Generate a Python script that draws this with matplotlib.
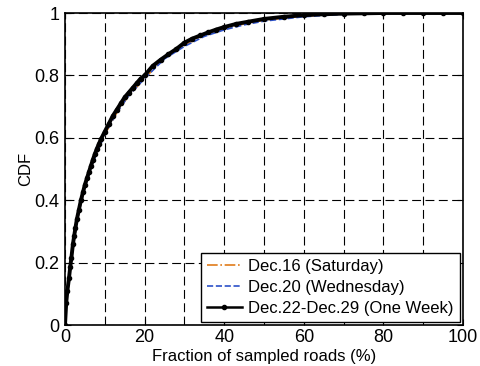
import matplotlib
matplotlib.use("Agg")
import matplotlib.pyplot as plt

# values (CDF vs fraction of sampled roads, %)
week_x = [0, 0.3, 0.6, 1, 1.3, 1.6, 2, 2.3, 2.6, 3, 3.5, 4, 4.5, 5, 5.5,
          6, 6.5, 7, 7.5, 8, 8.5, 9, 10, 11, 12, 13, 14, 15, 16, 17, 18,
          19, 20, 22, 24, 26, 28, 30, 32, 34, 36, 38, 40, 43, 46, 50, 55,
          60, 65, 70, 75, 80, 85, 90, 95, 100]
week_y = [0, 0.07, 0.11, 0.15, 0.185, 0.215, 0.26, 0.285, 0.31, 0.34, 0.37,
          0.40, 0.425, 0.45, 0.47, 0.49, 0.51, 0.53, 0.548, 0.565, 0.58,
          0.595, 0.62, 0.645, 0.67, 0.69, 0.71, 0.73, 0.745, 0.76, 0.775,
          0.79, 0.80, 0.83, 0.85, 0.868, 0.885, 0.905, 0.918, 0.928, 0.938,
          0.947, 0.955, 0.965, 0.972, 0.981, 0.988, 0.993, 0.996, 0.998,
          0.999, 1.0, 1.0, 1.0, 1.0, 1.0]

sat_x = [0, 0.5, 1, 2, 3, 4, 5, 7, 10, 13, 16, 20, 25, 30, 35, 40, 45,
         50, 60, 70, 80, 90, 100]
sat_y = [0, 0.09, 0.14, 0.25, 0.33, 0.39, 0.44, 0.52, 0.61, 0.68, 0.735,
         0.79, 0.857, 0.897, 0.93, 0.95, 0.965, 0.977, 0.99, 0.997, 1.0,
         1.0, 1.0]

wed_x = [0, 0.5, 1, 2, 3, 4, 5, 7, 10, 13, 16, 20, 25, 30, 35, 40, 45,
         50, 60, 70, 80, 90, 100]
wed_y = [0, 0.09, 0.14, 0.25, 0.33, 0.39, 0.44, 0.52, 0.61, 0.68, 0.735,
         0.79, 0.853, 0.893, 0.925, 0.946, 0.962, 0.974, 0.988, 0.996,
         0.999, 1.0, 1.0]

plt.rcParams['font.family'] = ['Liberation Sans', 'DejaVu Sans']

fig = plt.figure(figsize=(4.81, 3.66), dpi=100)
ax = fig.add_axes([65 / 481, 41 / 366, 398 / 481, 312 / 366])

ax.plot(sat_x, sat_y, color='#e07b1a', linestyle='-.', linewidth=1.2,
        label='Dec.16 (Saturday)')
ax.plot(wed_x, wed_y, color='#2b50c8', linestyle='--', linewidth=1.2,
        label='Dec.20 (Wednesday)')
ax.plot(week_x, week_y, color='black', linestyle='-', linewidth=2.8,
        marker='o', markersize=3, label='Dec.22-Dec.29 (One Week)')

ax.set_xlim(0, 100)
ax.set_ylim(0, 1)
ax.set_xticks(range(0, 101, 20))
ax.set_xticks(range(0, 101, 10), minor=True)
ax.set_yticks([0, 0.2, 0.4, 0.6, 0.8, 1])
ax.set_yticklabels(['0', '0.2', '0.4', '0.6', '0.8', '1'])
ax.grid(True, which='both', axis='x', color='black', linestyle=(0, (8, 4)),
        linewidth=0.8)
ax.grid(True, which='major', axis='y', color='black', linestyle=(0, (8, 4)),
        linewidth=0.8)
ax.tick_params(which='both', direction='in', top=True, right=True,
               labelsize=13, length=4, width=0.8)
ax.tick_params(axis='x', pad=3)
ax.tick_params(axis='y', pad=4)
ax.tick_params(which='minor', length=0)
for s in ax.spines.values():
    s.set_linewidth(1.2)

ax.set_xlabel('Fraction of sampled roads (%)', fontsize=12, labelpad=2)
ax.set_ylabel('CDF', fontsize=12, labelpad=1)

leg = ax.legend(loc='lower right', fontsize=12, frameon=True, fancybox=False,
                edgecolor='black', framealpha=1, handlelength=2.1,
                labelspacing=0.35, borderpad=0.35, handletextpad=0.4,
                borderaxespad=0.2)
leg.get_frame().set_linewidth(1.0)
leg.legend_handles[2].set_linewidth(1.8)

fig.savefig('out.png', dpi=100)
